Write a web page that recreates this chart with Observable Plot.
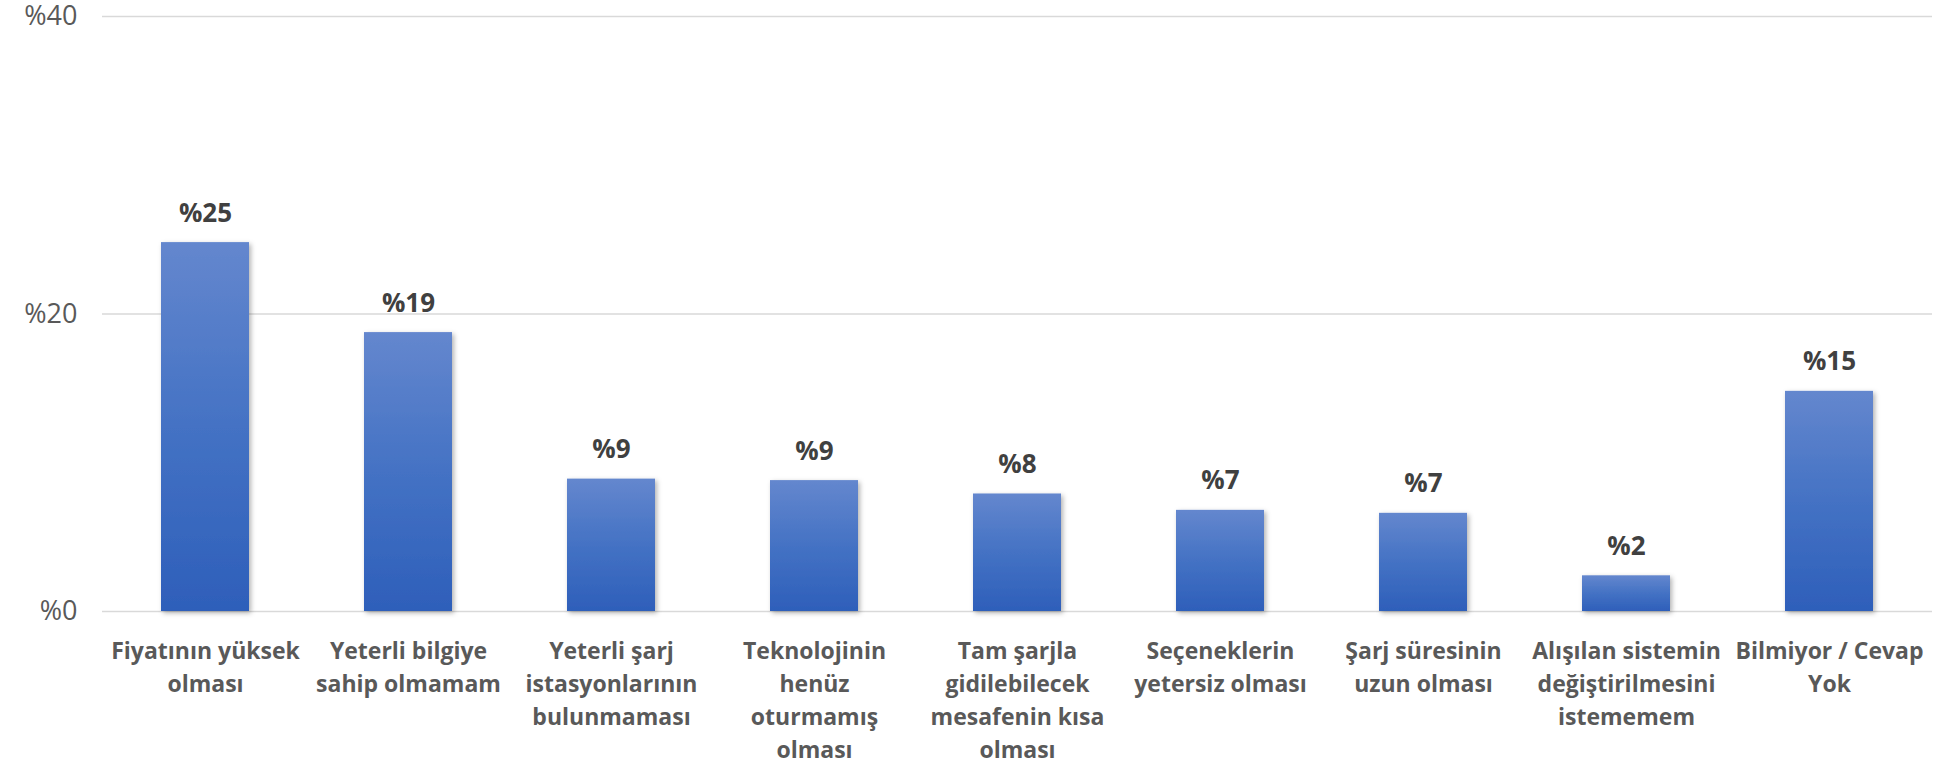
<!DOCTYPE html>
<html><head><meta charset="utf-8">
<script src="https://cdn.jsdelivr.net/npm/d3@7"></script>
<script src="https://cdn.jsdelivr.net/npm/@observablehq/plot@0.6"></script>
<style>body{margin:0;background:#fff;}</style>
</head><body><div id="chart"></div>
<script>
const categories = [
  "Fiyatının yüksek\nolması",
  "Yeterli bilgiye\nsahip olmamam",
  "Yeterli şarj\nistasyonlarının\nbulunmaması",
  "Teknolojinin\nhenüz\noturmamış\nolması",
  "Tam şarjla\ngidilebilecek\nmesafenin kısa\nolması",
  "Seçeneklerin\nyetersiz olması",
  "Şarj süresinin\nuzun olması",
  "Alışılan sistemin\ndeğiştirilmesini\nistememem",
  "Bilmiyor / Cevap\nYok"
];
const values = [24.8, 18.75, 8.9, 8.8, 7.9, 6.8, 6.6, 2.4, 14.8];
const yTicks = [0, 20, 40];

const data = categories.map((c, i) => ({category: c, value: values[i]}));

const chart = Plot.plot({
  width: 1944, height: 765,
  marginLeft: 102, marginRight: 12, marginTop: 16, marginBottom: 154,
  style: {fontFamily: "'Open Sans', sans-serif", background: "#fff"},
  x: {domain: categories, paddingInner: 0.566, paddingOuter: 0.283, label: null},
  y: {domain: [0, 40], label: null},
  marks: [
    Plot.ruleY(yTicks, {stroke: "#d9d9d9", strokeWidth: 1.5}),
    Plot.barY(data, {x: "category", y: "value", fill: "url(#barGrad)"}),
    Plot.text(data, {x: "category", y: "value", text: d => "%" + Math.round(d.value),
      lineAnchor: "bottom", dy: -21, fontSize: 26, fontWeight: "bold", fill: "#404040"}),
    Plot.axisX({tickSize: 0, tickPadding: 24, fontSize: 23, fontWeight: "bold", color: "#595959",
      lineHeight: 1.435, label: null}),
    Plot.axisY({ticks: yTicks, tickFormat: d => "%" + d, tickSize: 0, tickPadding: 25,
      fontSize: 27, color: "#595959", label: null})
  ]
});

const svg = d3.select(chart);
const defs = svg.insert("defs", ":first-child");
const grad = defs.append("linearGradient").attr("id", "barGrad")
  .attr("x1", 0).attr("y1", 0).attr("x2", 0).attr("y2", 1);
grad.append("stop").attr("offset", "0%").attr("stop-color", "#6487CE");
grad.append("stop").attr("offset", "50%").attr("stop-color", "#4472C4");
grad.append("stop").attr("offset", "100%").attr("stop-color", "#2E5FBA");
const f = defs.append("filter").attr("id", "barShadow")
  .attr("x", "-20%").attr("y", "-20%").attr("width", "150%").attr("height", "150%");
f.append("feDropShadow").attr("dx", 2).attr("dy", 2).attr("stdDeviation", 2.5)
  .attr("flood-color", "#000").attr("flood-opacity", 0.3);
svg.selectAll("g[aria-label=bar]").attr("filter", "url(#barShadow)");

document.getElementById("chart").appendChild(chart);
</script>
</body></html>
